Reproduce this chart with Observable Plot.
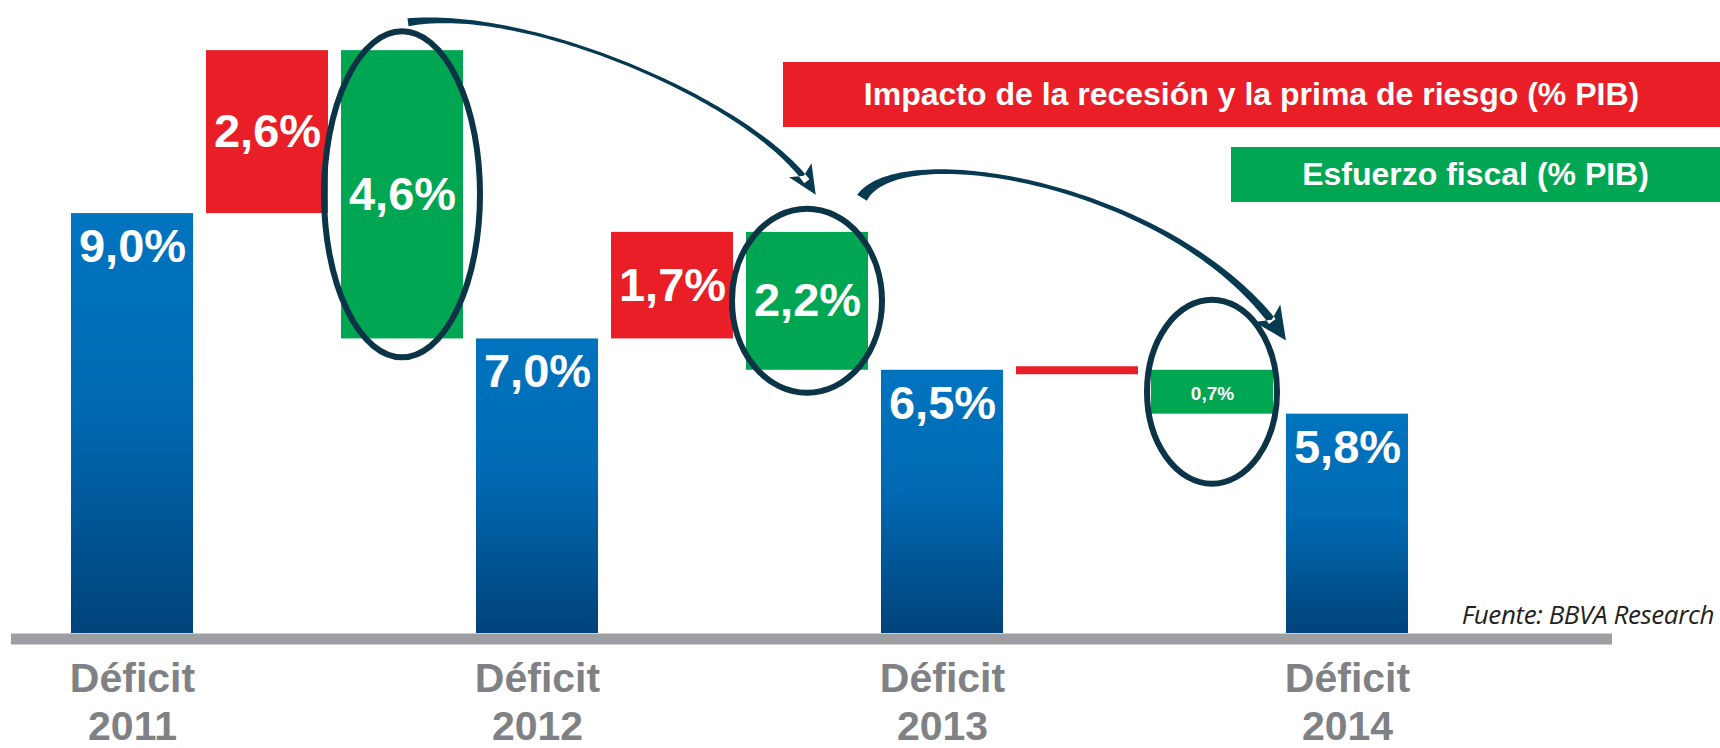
<!DOCTYPE html>
<html>
<head>
<meta charset="utf-8">
<script src="https://cdn.jsdelivr.net/npm/d3@7"></script>
<script src="https://cdn.jsdelivr.net/npm/@observablehq/plot@0.6"></script>
<style>
  body { margin: 0; background: #fff; }
  #wrap { position: relative; width: 1720px; height: 748px; overflow: hidden; font-family: "Liberation Sans", Arial, sans-serif; }
  .leg { position: absolute; color: #fff; font-weight: bold; display: flex; align-items: center; justify-content: center; font-size: 32px; white-space: nowrap; }
  .src { position: absolute; right: 6px; top: 601px; line-height: 1; font-family: "Open Sans", sans-serif; font-style: italic; font-size: 26px; color: #231f20; white-space: nowrap; letter-spacing: -0.4px; }
</style>
</head>
<body>
<div id="wrap"></div>
<script>
// ---------- data ----------
const years = ["2011", "2012", "2013", "2014"];
const deficit = [9.0, 7.0, 6.5, 5.8];          // Déficit (% PIB)
const impacto = [2.6, 1.7, 0.0];               // Impacto de la recesión y la prima de riesgo (% PIB)
const esfuerzo = [4.6, 2.2, 0.7];              // Esfuerzo fiscal (% PIB)
const legendLabels = ["Impacto de la recesión y la prima de riesgo (% PIB)", "Esfuerzo fiscal (% PIB)"];
const axisWord = "Déficit";
const sourceText = "Fuente: BBVA Research";

// ---------- styles ----------
const BLUE_TOP = "#0074bf", BLUE_MID = "#006ab4", BLUE_BOT = "#00437a";
const RED = "#e91e26", GREEN = "#00a651", DARK = "#0b3447", ARROW = "#053a50", GRAY = "#9d9ea1", LABEL_GRAY = "#808184";
const yDomain = [2.3, 12.4];
const fmt = v => v.toFixed(1).replace(".", ",") + "%";

// ---------- waterfall rows ----------
const rows = [];
years.forEach((yr, i) => {
  rows.push({key: "def-" + yr, kind: "deficit", year: yr, y1: yDomain[0], y2: deficit[i], value: deficit[i]});
  if (i < impacto.length) {
    const top = deficit[i] + impacto[i];
    rows.push({key: "imp-" + years[i + 1], kind: "impacto", y1: deficit[i], y2: top, value: impacto[i]});
    rows.push({key: "esf-" + years[i + 1], kind: "esfuerzo", y1: top, y2: top - esfuerzo[i], value: esfuerzo[i]});
  }
});
const defRows = rows.filter(d => d.kind === "deficit");
const impRows = rows.filter(d => d.kind === "impacto");
const esfRows = rows.filter(d => d.kind === "esfuerzo");
const boxRows = rows.filter(d => d.kind !== "deficit" && d.value > 0);

const chart = Plot.plot({
  width: 1720,
  height: 748,
  marginTop: 0,
  marginBottom: 115,
  marginLeft: 11,
  marginRight: 108,
  style: {fontFamily: "Liberation Sans, Arial, sans-serif", background: "transparent"},
  x: {type: "band", domain: rows.map(d => d.key), range: [55.5, 1422], padding: 0.1, axis: null},
  y: {domain: yDomain, axis: null},
  marks: [
    Plot.barY(defRows, {x: "key", y1: "y1", y2: "y2", fill: "url(#blueGrad)"}),
    Plot.barY(impRows.filter(d => d.value > 0), {x: "key", y1: "y1", y2: "y2", fill: RED}),
    Plot.tickY(impRows.filter(d => d.value === 0), {x: "key", y: "y2", stroke: RED, strokeWidth: 8}),
    Plot.barY(esfRows, {x: "key", y1: "y1", y2: "y2", fill: GREEN}),
    Plot.ruleY([yDomain[0]], {stroke: GRAY, strokeWidth: 11, dy: 5.5}),
    // value labels on deficit bars
    Plot.text(defRows, {x: "key", y: "y2", text: d => fmt(d.value), fill: "white", fontSize: 47, fontWeight: "bold", lineAnchor: "top", dy: 15}),
    // value labels on step boxes
    Plot.text(boxRows.filter(d => d.value >= 1), {x: "key", y: d => (d.y1 + d.y2) / 2, text: d => fmt(d.value), fill: "white", fontSize: 47, fontWeight: "bold", lineAnchor: "middle"}),
    Plot.text(boxRows.filter(d => d.value < 1), {x: "key", y: d => (d.y1 + d.y2) / 2, text: d => fmt(d.value), fill: "white", fontSize: 19, fontWeight: "bold", lineAnchor: "middle", dy: 2}),
    // category labels
    Plot.text(defRows, {x: "key", frameAnchor: "bottom", text: d => axisWord + "\n" + d.year, fill: LABEL_GRAY, fontSize: 41, fontWeight: "bold", lineAnchor: "top", lineHeight: 1.17, dy: 24})
  ]
});

// gradient definition for the blue bars
const svg = d3.select(chart);
const defs = svg.insert("defs", ":first-child");
const grad = defs.append("linearGradient").attr("id", "blueGrad").attr("x1", 0).attr("y1", 0).attr("x2", 0).attr("y2", 1);
grad.append("stop").attr("offset", "0%").attr("stop-color", BLUE_TOP);
grad.append("stop").attr("offset", "45%").attr("stop-color", BLUE_MID);
grad.append("stop").attr("offset", "100%").attr("stop-color", BLUE_BOT);

// annotation: ellipses around the fiscal effort boxes and arrows between them, placed with the plot's scales
const sx = chart.scale("x"), sy = chart.scale("y");
const bx = sx.apply ? (v => sx.apply(v)) : d3.scaleBand(sx.domain, sx.range).paddingInner(0.1).paddingOuter(0.1);
const bw = sx.bandwidth;
const Y = sy.apply ? (v => sy.apply(v)) : d3.scaleLinear(sy.domain, sy.range);
const ellipseSize = [[78, 163], [75, 92], [65, 92]];
const ell = esfRows.map((d, i) => ({cx: bx(d.key) + bw / 2, cy: (Y(d.y1) + Y(d.y2)) / 2, rx: ellipseSize[i][0], ry: ellipseSize[i][1]}));
const ann = svg.append("g");
ann.selectAll("ellipse").data(ell).join("ellipse")
  .attr("cx", d => d.cx).attr("cy", d => d.cy).attr("rx", d => d.rx).attr("ry", d => d.ry)
  .attr("fill", "none").attr("stroke", DARK).attr("stroke-width", 6);

// tapered brush-like arrow along a cubic curve
function bez(p, t) {
  const u = 1 - t;
  return [0, 1].map(k => u * u * u * p[0][k] + 3 * u * u * t * p[1][k] + 3 * u * t * t * p[2][k] + t * t * t * p[3][k]);
}
function bezD(p, t) {
  const u = 1 - t;
  return [0, 1].map(k => 3 * u * u * (p[1][k] - p[0][k]) + 6 * u * t * (p[2][k] - p[1][k]) + 3 * t * t * (p[3][k] - p[2][k]));
}
function tapered(p, wfn, head) {
  const N = 80, L = [], R = [];
  for (let i = 0; i <= N; i++) {
    const t = i / N * 0.97, q = bez(p, t), d = bezD(p, t), m = Math.hypot(d[0], d[1]);
    const n = [-d[1] / m, d[0] / m], w = wfn(t) / 2;
    L.push([q[0] + n[0] * w, q[1] + n[1] * w]);
    R.push([q[0] - n[0] * w, q[1] - n[1] * w]);
  }
  const body = "M" + L.map(q => q.join(",")).join("L") + "L" + R.reverse().map(q => q.join(",")).join("L") + "Z";
  const e = p[3], d = bezD(p, 1), m = Math.hypot(d[0], d[1]), u = [d[0] / m, d[1] / m], n = [-u[1], u[0]];
  const pt = (a, b) => [e[0] + u[0] * a + n[0] * b, e[1] + u[1] * a + n[1] * b].join(",");
  const tip = "M" + pt(7, 0) + "L" + pt(-head, head * 0.6) + "L" + pt(-head * 0.7, 0) + "L" + pt(-head, -head * 0.6) + "Z";
  return body + tip;
}
const e1 = ell[0], e2 = ell[1], e3 = ell[2];
const s1 = [e1.cx + 6, e1.cy - e1.ry - 9], t1 = [e2.cx + 5, e2.cy - e2.ry - 20];
const s2 = [e2.cx + 55, e2.cy - e2.ry - 11], t2 = [e3.cx + 70, e3.cy - e3.ry + 35];
const arrows = [
  tapered([s1, [s1[0] + 123, s1[1] - 17], [t1[0] - 52, t1[1] - 83], t1], t => 3 + 5 * Math.pow(1 - t, 8) + 4 * Math.pow(t, 4), 22),
  tapered([s2, [s2[0] + 38, s2[1] - 62], [t2[0] - 102, t2[1] - 150], t2], t => 3.5 + 8 * Math.pow(1 - t, 6) + 5.5 * Math.pow(t, 4), 26)
];
ann.selectAll("path.arr").data(arrows).join("path").attr("class", "arr")
  .attr("d", d => d).attr("fill", ARROW).attr("stroke", "none");

const wrap = document.getElementById("wrap");
wrap.appendChild(chart);

// legend boxes (HTML overlay)
const leg1 = document.createElement("div");
leg1.className = "leg"; leg1.textContent = legendLabels[0];
Object.assign(leg1.style, {left: "783px", top: "62px", width: "937px", height: "65px", background: RED});
const leg2 = document.createElement("div");
leg2.className = "leg"; leg2.textContent = legendLabels[1];
Object.assign(leg2.style, {left: "1231px", top: "147px", width: "489px", height: "55px", background: GREEN});
const src = document.createElement("div");
src.className = "src"; src.textContent = sourceText;
wrap.append(leg1, leg2, src);
</script>
</body>
</html>
